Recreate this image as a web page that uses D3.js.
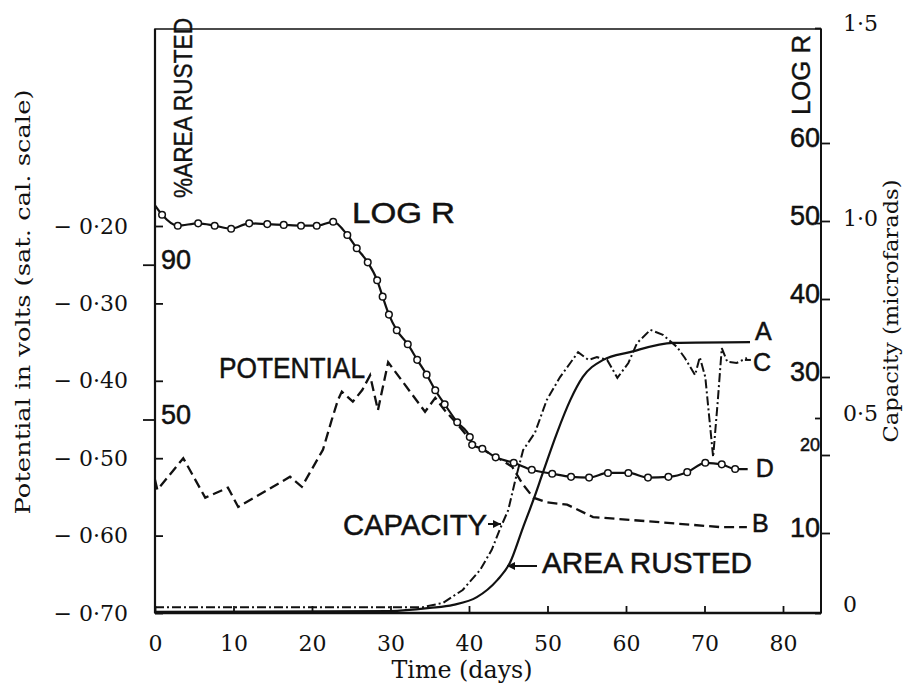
<!DOCTYPE html>
<html>
<head>
<meta charset="utf-8">
<script src="https://cdn.jsdelivr.net/npm/d3@7"></script>
<style>
  html, body { margin: 0; padding: 0; background: #fff; }
  svg { display: block; }
</style>
</head>
<body>
<svg id="chart" width="911" height="685"></svg>
<script>
// ---- tick values -------------------------------------------------------
const timeTicks = [0, 10, 20, 30, 40, 50, 60, 70, 80];
const potentialTicks = [-0.20, -0.30, -0.40, -0.50, -0.60, -0.70];
const areaTicks = [90, 50];
const logRTicks = [10, 20, 30, 40, 50, 60];
const capacityTicks = [0, 0.5, 1.0, 1.5];

// ---- series ------------------------------------------------------------
// D: log R (circles)
const logRDays = [0, 0.9, 2.9, 5.5, 7.6, 9.7, 12.0, 14.3, 16.4, 18.6, 20.6, 22.7,
  24.5, 25.7, 27.1, 28.3, 29.0, 29.8, 30.8, 32.2, 33.4, 34.6, 35.7, 36.9, 38.5,
  40.1, 40.4, 41.7, 43.4, 45.7, 48.0, 50.6, 53.0, 55.3, 57.7, 60.3, 62.8, 65.4,
  67.8, 70.1, 72.2, 73.9, 75.5];
const logRValues = [52.0, 50.8, 49.4, 49.7, 49.4, 49.0, 49.7, 49.6, 49.5, 49.4, 49.4, 49.9,
  48.2, 46.5, 44.7, 42.4, 40.3, 38.0, 36.0, 34.2, 32.2, 30.3, 28.3, 26.5, 24.2,
  22.3, 21.3, 20.8, 19.7, 19.0, 18.1, 17.6, 17.2, 17.1, 17.7, 17.7, 17.1, 17.2,
  17.8, 19.0, 18.8, 18.2, 18.2];

// B: potential (volts, sat. cal. scale)
const potentialDays = [0, 0.3, 3.6, 6.4, 9.3, 10.6, 17.2, 18.7, 21.4, 22.5, 23.3,
  23.8, 25.2, 26.4, 27.4, 28.4, 29.7, 34.4, 35.7, 36.9, 38.6, 40.4, 42.3, 43.9,
  45.5, 46.8, 48.2, 49.9, 52.5, 55.8, 63.4, 72.0, 75.4];
const potentialValues = [-0.528, -0.541, -0.500, -0.551, -0.538, -0.563, -0.524, -0.537,
  -0.489, -0.451, -0.425, -0.414, -0.427, -0.412, -0.393, -0.438, -0.376, -0.440,
  -0.422, -0.438, -0.457, -0.479, -0.492, -0.501, -0.511, -0.533, -0.551, -0.557,
  -0.560, -0.576, -0.582, -0.589, -0.589];

// A: % area rusted
const areaDays = [0, 30, 35.0, 38.0, 41.0, 43.6, 45.2, 46.9, 48.2, 49.4, 51.2,
  52.9, 54.5, 57.1, 60.5, 66.0, 75.8];
const areaValues = [0.3, 0.5, 1.3, 2.1, 4.1, 8.5, 12.9, 22.2, 29.2, 36.2, 46.5,
  55.0, 61.0, 65.4, 67.4, 69.8, 70.0];

// C: capacity (microfarads)
const capacityDays = [0, 34.1, 36.7, 39.2, 41.4, 42.9, 43.9, 45.0, 45.9, 46.9, 48.4,
  49.9, 51.6, 52.9, 53.9, 55.2, 56.3, 57.6, 58.9, 60.3, 61.4, 63.1, 64.7, 66.5,
  67.5, 68.8, 69.4, 70.1, 71.1, 71.7, 72.2, 72.9, 74.1, 75.4];
const capacityValues = [0.015, 0.015, 0.026, 0.059, 0.110, 0.162, 0.213, 0.264, 0.341,
  0.418, 0.462, 0.546, 0.605, 0.641, 0.669, 0.649, 0.656, 0.649, 0.603, 0.641,
  0.692, 0.726, 0.713, 0.682, 0.654, 0.610, 0.656, 0.605, 0.400, 0.546, 0.679,
  0.644, 0.641, 0.654];

// ---- layout -------------------------------------------------------------
const frameLeft = 155, frameRight = 821, frameTop = 29, frameBottom = 613;
const serif = "'DejaVu Serif', serif";
const sans = "'Liberation Sans', Arial, sans-serif";

const x = d3.scaleLinear().domain([0, 80]).range([155, 783]);
const yPot = d3.scaleLinear().domain([-0.2, -0.7]).range([226, 613]);
const yArea = d3.scaleLinear().domain([0, 100]).range([613, 226]);
const yLogR = d3.scaleLinear().domain([0, 60]).range([611, 143]);
const yCap = d3.scaleLinear().domain([0, 1.5]).range([613, 28]);

const svg = d3.select("#chart");
const ink = "#111";

// frame
svg.append("path")
  .attr("d", `M${frameLeft},${frameBottom}V${frameTop}H${frameRight}V${frameBottom}Z`)
  .attr("fill", "none").attr("stroke", ink).attr("stroke-width", 1.6);
svg.append("line").attr("x1", frameLeft).attr("x2", frameLeft)
  .attr("y1", frameTop).attr("y2", frameBottom)
  .attr("stroke", ink).attr("stroke-width", 2.2);
svg.append("line").attr("x1", frameLeft).attr("x2", frameRight)
  .attr("y1", frameBottom).attr("y2", frameBottom)
  .attr("stroke", ink).attr("stroke-width", 2.4);
svg.append("line").attr("x1", frameRight).attr("x2", frameRight)
  .attr("y1", frameTop).attr("y2", frameBottom)
  .attr("stroke", ink).attr("stroke-width", 2);

const dot = s => s.replace(".", "·");

function styleAxis(g, font, size) {
  g.select(".domain").remove();
  g.selectAll(".tick line").attr("stroke", ink).attr("stroke-width", 1.8);
  g.selectAll(".tick text").attr("fill", ink)
    .style("font-family", font).style("font-size", size + "px");
}

// time axis (ticks point into the plot)
svg.append("g").attr("transform", `translate(0,${frameBottom})`)
  .call(d3.axisBottom(x).tickValues(timeTicks).tickSizeInner(-7).tickSizeOuter(0)
    .tickPadding(22).tickFormat(d => d))
  .call(g => styleAxis(g, serif, 22));

// potential axis, left
svg.append("g").attr("transform", `translate(${frameLeft},0)`)
  .call(d3.axisLeft(yPot).tickValues(potentialTicks).tickSizeInner(-8).tickSizeOuter(0)
    .tickPadding(27).tickFormat(d => "− " + dot(d3.format(".2f")(-d))))
  .call(g => styleAxis(g, serif, 22));

// % area rusted axis, on the same left spine
svg.append("g").attr("transform", `translate(${frameLeft},0)`)
  .call(d3.axisRight(yArea).tickValues(areaTicks).tickSizeInner(-12).tickSizeOuter(0)
    .tickPadding(6).tickFormat(d => d))
  .call(g => styleAxis(g, sans, 27))
  .call(g => g.selectAll(".tick text").attr("dy", "0.15em")
    .attr("stroke", ink).attr("stroke-width", 0.5));

// log R axis, right spine (labels inside)
svg.append("g").attr("transform", `translate(${frameRight},0)`)
  .call(d3.axisLeft(yLogR).tickValues(logRTicks).tickSizeInner(-9).tickSizeOuter(0)
    .tickPadding(1).tickFormat(d => d))
  .call(g => styleAxis(g, sans, 27))
  .call(g => g.selectAll(".tick text")
    .attr("dy", d => d === 20 ? "-0.25em" : "0.12em")
    .attr("stroke", ink).attr("stroke-width", 0.5)
    .style("font-size", d => d === 20 ? "18px" : "27px"));

// capacity axis, right spine (labels outside)
svg.append("g").attr("transform", `translate(${frameRight},0)`)
  .call(d3.axisRight(yCap).tickValues(capacityTicks).tickSizeInner(-6).tickSizeOuter(0)
    .tickPadding(22).tickFormat(d => d === 0 ? "0" : dot(d3.format(".1f")(d))))
  .call(g => styleAxis(g, serif, 22))
  .call(g => g.selectAll(".tick text").attr("dy", d => d === 0 ? "-0.05em" : "0.12em"));

// axis titles
svg.append("text")
  .attr("transform", "translate(30,302) rotate(-90)")
  .attr("text-anchor", "middle").attr("fill", ink)
  .attr("textLength", 425).attr("lengthAdjust", "spacingAndGlyphs")
  .style("font-family", serif).style("font-size", "21px")
  .text("Potential in volts (sat. cal. scale)");
svg.append("text")
  .attr("transform", "translate(898,311) rotate(-90)")
  .attr("text-anchor", "middle").attr("fill", ink)
  .attr("textLength", 263).attr("lengthAdjust", "spacingAndGlyphs")
  .style("font-family", serif).style("font-size", "21px")
  .text("Capacity (microfarads)");
svg.append("text")
  .attr("x", 462).attr("y", 678)
  .attr("text-anchor", "middle").attr("fill", ink)
  .attr("textLength", 141).attr("lengthAdjust", "spacingAndGlyphs")
  .style("font-family", serif).style("font-size", "24px")
  .text("Time (days)");
svg.append("text")
  .attr("transform", "translate(192,108) rotate(-90)")
  .attr("text-anchor", "middle").attr("fill", ink)
  .attr("stroke", ink).attr("stroke-width", 0.4)
  .attr("textLength", 180).attr("lengthAdjust", "spacingAndGlyphs")
  .style("font-family", sans).style("font-size", "25px")
  .text("%AREA RUSTED");
svg.append("text")
  .attr("transform", "translate(810,75) rotate(-90)")
  .attr("text-anchor", "middle").attr("fill", ink)
  .attr("stroke", ink).attr("stroke-width", 0.4)
  .attr("textLength", 80).attr("lengthAdjust", "spacingAndGlyphs")
  .style("font-family", sans).style("font-size", "25px")
  .text("LOG R");

// ---- curves -------------------------------------------------------------
const plot = svg.append("g");

const areaPts = d3.zip(areaDays, areaValues);
plot.append("path")
  .attr("d", d3.line().x(d => x(d[0])).y(d => yArea(d[1])).curve(d3.curveMonotoneX)(areaPts))
  .attr("fill", "none").attr("stroke", ink).attr("stroke-width", 2.2);

const capPts = d3.zip(capacityDays, capacityValues);
plot.append("path")
  .attr("d", d3.line().x(d => x(d[0])).y(d => yCap(d[1])).curve(d3.curveLinear)(capPts))
  .attr("fill", "none").attr("stroke", ink).attr("stroke-width", 2)
  .attr("stroke-dasharray", "9,3,2,3");

const potPts = d3.zip(potentialDays, potentialValues);
plot.append("path")
  .attr("d", d3.line().x(d => x(d[0])).y(d => yPot(d[1]))(potPts))
  .attr("fill", "none").attr("stroke", ink).attr("stroke-width", 2.3)
  .attr("stroke-dasharray", "10,5");

const logRPts = d3.zip(logRDays, logRValues);
plot.append("path")
  .attr("d", d3.line().x(d => x(d[0])).y(d => yLogR(d[1])).curve(d3.curveMonotoneX)(logRPts))
  .attr("fill", "none").attr("stroke", ink).attr("stroke-width", 2.2);
plot.selectAll("circle.logr")
  .data(logRPts.slice(1, -1))
  .join("circle").attr("class", "logr")
  .attr("cx", d => x(d[0])).attr("cy", d => yLogR(d[1])).attr("r", 3.3)
  .attr("fill", "#fff").attr("stroke", ink).attr("stroke-width", 1.5);

// ---- curve labels -------------------------------------------------------
function label(txt, px, py, len) {
  const t = svg.append("text").attr("x", px).attr("y", py).attr("fill", ink)
    .attr("stroke", ink).attr("stroke-width", 0.5)
    .style("font-family", sans).style("font-size", "29px").text(txt);
  if (len) t.attr("textLength", len).attr("lengthAdjust", "spacingAndGlyphs");
  return t;
}
label("LOG R", 352, 223, 103);
label("POTENTIAL", 219, 378, 146);
label("CAPACITY", 343, 535, 144);
label("AREA RUSTED", 542, 573, 210);

const endOf = (days, vals) => [days[days.length - 1], vals[vals.length - 1]];
function endLabel(txt, px, py) {
  svg.append("text").attr("x", px).attr("y", py).attr("fill", ink)
    .attr("stroke", ink).attr("stroke-width", 0.5)
    .style("font-family", sans).style("font-size", "25px").text(txt);
}
const aEnd = endOf(areaDays, areaValues);
endLabel("A", x(aEnd[0]) + 5, yArea(aEnd[1]) - 2);
const bEnd = endOf(potentialDays, potentialValues);
endLabel("B", x(bEnd[0]) + 5, yPot(bEnd[1]) + 5);
const cEnd = endOf(capacityDays, capacityValues);
svg.append("line").attr("x1", x(cEnd[0]) - 2).attr("x2", x(cEnd[0]) + 4)
  .attr("y1", yCap(cEnd[1]) + 2).attr("y2", yCap(cEnd[1]) + 2)
  .attr("stroke", ink).attr("stroke-width", 2);
endLabel("C", x(cEnd[0]) + 6, yCap(cEnd[1]) + 13);
const dEnd = endOf(logRDays, logRValues);
endLabel("D", x(dEnd[0]) + 8, yLogR(dEnd[1]) + 8);

// ---- arrows ---------------------------------------------------------------
function arrow(x1, y1, x2, y2) {
  svg.append("line").attr("x1", x1).attr("y1", y1).attr("x2", x2).attr("y2", y2)
    .attr("stroke", ink).attr("stroke-width", 2);
  const dir = Math.sign(x2 - x1);
  svg.append("path")
    .attr("d", `M${x2},${y2}L${x2 - dir * 8},${y2 - 4}L${x2 - dir * 8},${y2 + 4}Z`)
    .attr("fill", ink);
}
arrow(488, 524, 501, 524);
arrow(537, 566, 507, 566);
</script>
</body>
</html>
